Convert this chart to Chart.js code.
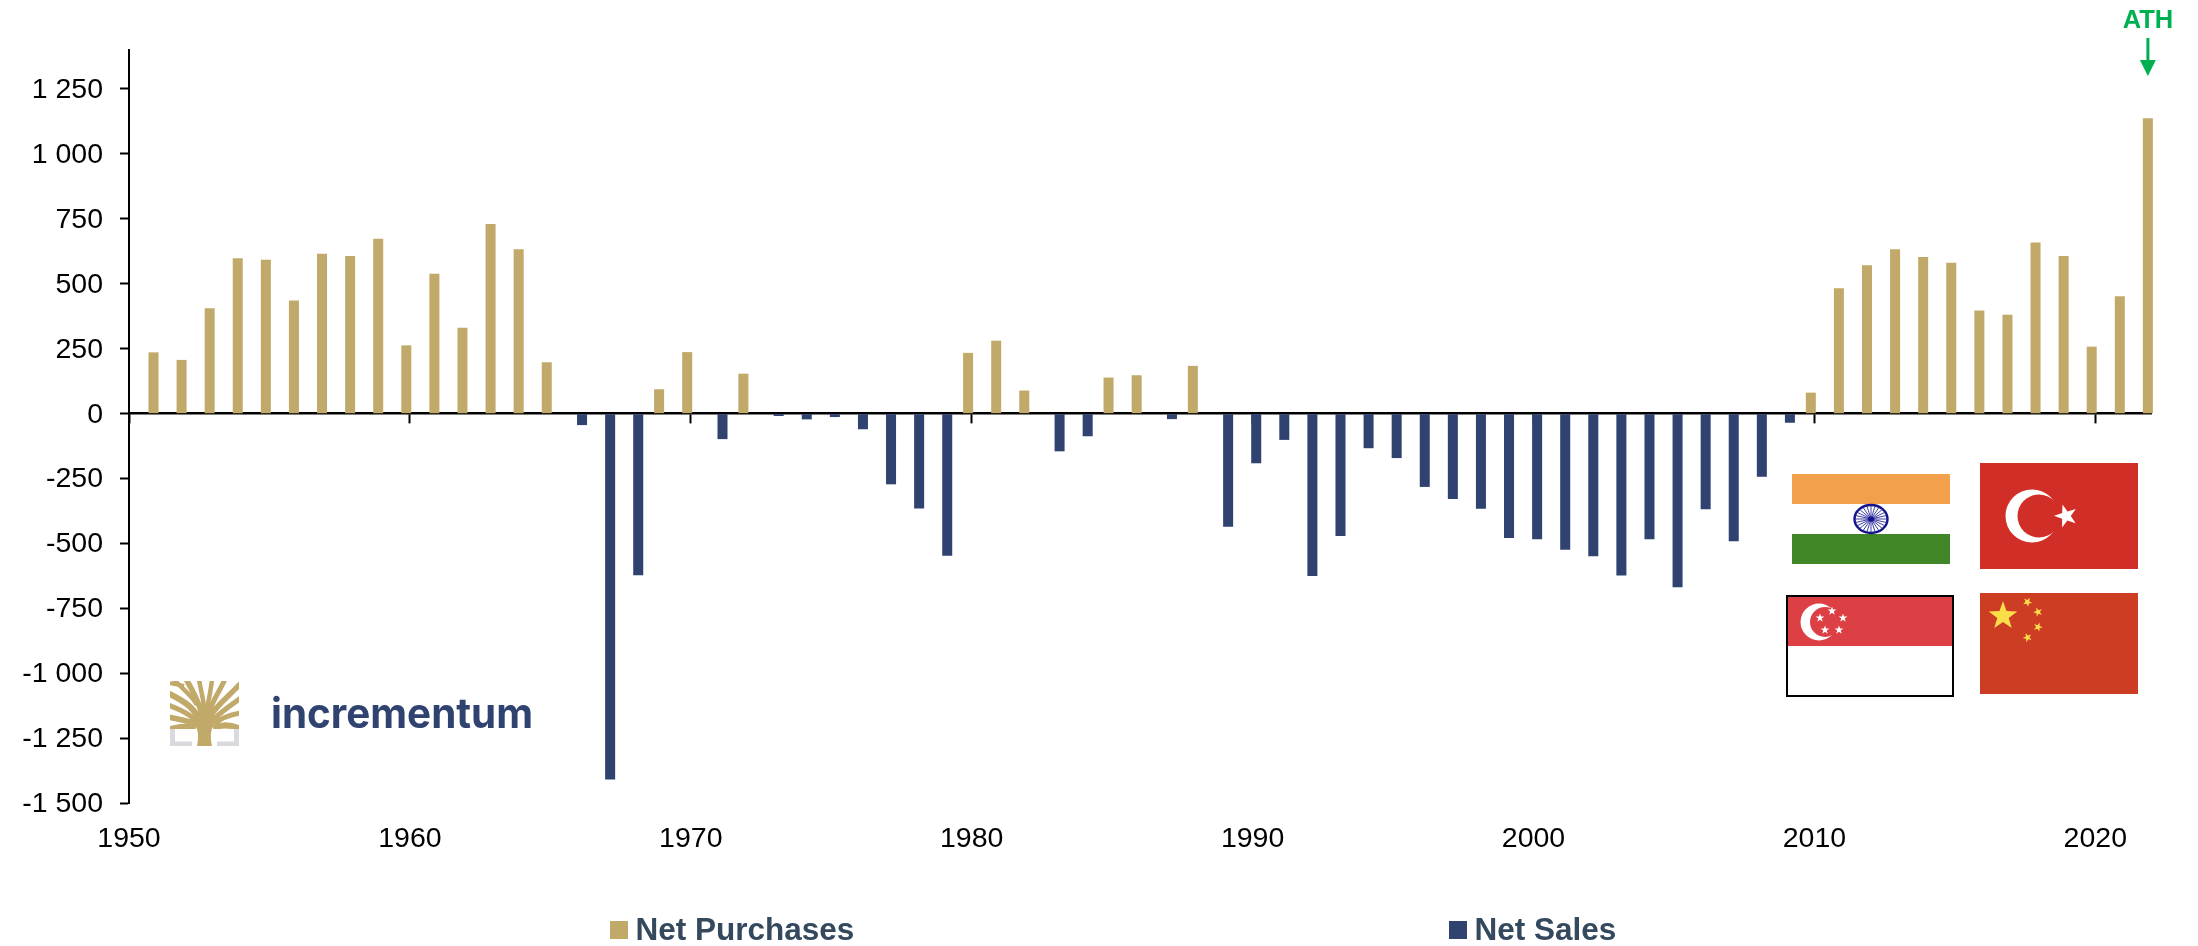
<!DOCTYPE html>
<html>
<head>
<meta charset="utf-8">
<script src="https://cdn.jsdelivr.net/npm/chart.js@4"></script>
<style>
html,body{margin:0;padding:0;background:#fff;}
#wrap{position:relative;width:2198px;height:946px;overflow:hidden;}
#c{position:absolute;left:0;top:0;}
#deco{position:absolute;left:0;top:0;pointer-events:none;}
</style>
</head>
<body>
<div id="wrap">
<canvas id="c" width="2198" height="946"></canvas>
<svg id="deco" width="2198" height="946" xmlns="http://www.w3.org/2000/svg"></svg>
</div>
<script>
// ---- data ----
const years = ['1950','1951','1952','1953','1954','1955','1956','1957','1958','1959',
 '1960','1961','1962','1963','1964','1965','1966','1967','1968','1969',
 '1970','1971','1972','1973','1974','1975','1976','1977','1978','1979',
 '1980','1981','1982','1983','1984','1985','1986','1987','1988','1989',
 '1990','1991','1992','1993','1994','1995','1996','1997','1998','1999',
 '2000','2001','2002','2003','2004','2005','2006','2007','2008','2009',
 '2010','2011','2012','2013','2014','2015','2016','2017','2018','2019',
 '2020','2021','2022'];
const netPurchases = [null,236,207,406,598,593,436,616,607,673,
 263,539,331,730,633,198,null,null,null,94,
 237,null,154,null,null,null,null,null,null,null,
 234,281,89,null,null,139,148,null,184,null,
 null,null,null,null,null,null,null,null,null,null,
 null,null,null,null,null,null,null,null,null,null,
 81,483,571,633,603,581,397,381,659,607,
 258,452,1137];
const netSales = [null,null,null,null,null,null,null,null,null,null,
 null,null,null,null,null,null,-44,-1408,-622,null,
 null,-98,null,-9,-22,-13,-60,-272,-365,-547,
 null,null,null,-145,-87,null,null,-21,null,-435,
 -191,-101,-625,-471,-133,-171,-282,-329,-366,-479,
 -483,-524,-549,-623,-483,-668,-368,-491,-243,-35,
 null,null,null,null,null,null,null,null,null,null,
 null,null,null];
const seriesNames = ['Net Purchases','Net Sales'];
const athLabel = 'ATH';
const logoText = 'incrementum';

const GOLD = '#C1A96A', NAVY = '#2F4270', GREEN = '#00B050', FONT = '"Liberation Sans", Arial, sans-serif';

const decadesOnly = s => { s.ticks = s.ticks.filter(t => Number(years[t.value]) % 10 === 0); };

// Annotation and legend drawn from the chart's own scales and datasets
const overlay = {
  id: 'overlay',
  afterDraw(chart) {
    const ctx = chart.ctx;
    // ATH arrow: above the record bar
    const ax = chart.getDatasetMeta(0).data[years.length - 1].x;
    ctx.save();
    ctx.fillStyle = GREEN; ctx.strokeStyle = GREEN;
    ctx.font = 'bold 25.5px ' + FONT;
    ctx.textAlign = 'center'; ctx.textBaseline = 'alphabetic';
    ctx.fillText(athLabel, ax, 28);
    ctx.lineWidth = 3;
    ctx.beginPath(); ctx.moveTo(ax, 38); ctx.lineTo(ax, 62); ctx.stroke();
    ctx.beginPath(); ctx.moveTo(ax - 8, 60); ctx.lineTo(ax + 8, 60); ctx.lineTo(ax, 76); ctx.closePath(); ctx.fill();
    // legend
    const slots = [610, 1449];
    ctx.textAlign = 'left'; ctx.textBaseline = 'alphabetic';
    ctx.font = 'bold 31.5px ' + FONT;
    chart.data.datasets.forEach((d, i) => {
      ctx.fillStyle = d.backgroundColor;
      ctx.fillRect(slots[i], 921, 18, 18);
      ctx.fillStyle = '#34495E';
      ctx.fillText(d.label, slots[i] + 25.5, 940);
    });
    ctx.restore();
  }
};

new Chart(document.getElementById('c'), {
  type: 'bar',
  data: {
    labels: years,
    datasets: [
      {label: seriesNames[0], data: netPurchases, backgroundColor: GOLD, categoryPercentage: 0.513, barPercentage: 1.39, clip: false},
      {label: seriesNames[1], data: netSales, backgroundColor: NAVY, categoryPercentage: 0.513, barPercentage: 1.39, clip: false}
    ]
  },
  options: {
    responsive: false,
    animation: false,
    devicePixelRatio: 1,
    layout: {padding: {left: 0, right: 46.5, top: 50, bottom: 82.7}},
    plugins: {legend: {display: false}, tooltip: {enabled: false}, title: {display: false}},
    scales: {
      x: {
        type: 'category', position: 'bottom', offset: false,
        afterBuildTicks: decadesOnly,
        afterFit(s) { s.height = 60; },
        grid: {display: false, offset: false},
        border: {display: false},
        ticks: {autoSkip: false, maxRotation: 0, minRotation: 0, padding: 11, color: '#000', font: {family: FONT, size: 28.5}}
      },
      x2: {
        type: 'category', axis: 'x', labels: years, position: {y: 0}, offset: false, z: 1,
        afterBuildTicks: decadesOnly,
        grid: {display: true, offset: false, drawOnChartArea: false, drawTicks: true, tickLength: 9, tickColor: '#000', tickWidth: 2},
        border: {display: true, color: '#000', width: 2.4},
        ticks: {display: false, autoSkip: false}
      },
      y: {
        type: 'linear', position: 'left', min: -1500, max: 1400,
        afterFit(s) { s.width = 129; },
        grid: {display: true, drawOnChartArea: false, drawTicks: true, tickLength: 9, tickColor: '#000', tickWidth: 2},
        border: {display: true, color: '#000', width: 2},
        ticks: {
          stepSize: 250, includeBounds: false, padding: 17, labelOffset: 1, color: '#000',
          font: {family: FONT, size: 28.5},
          callback: v => String(v).replace(/(\d)(\d{3})$/, '$1 $2')
        }
      }
    }
  },
  plugins: [overlay]
});

// ---- flags and logo (decoration) ----
function star(cx, cy, r, rot) {
  const pts = [];
  for (let i = 0; i < 10; i++) {
    const a = (rot || 0) - Math.PI / 2 + i * Math.PI / 5, q = i % 2 ? r * 0.4 : r;
    pts.push((cx + q * Math.cos(a)).toFixed(1) + ',' + (cy + q * Math.sin(a)).toFixed(1));
  }
  return pts.join(' ');
}
let spokes = '';
for (let i = 0; i < 24; i++) {
  const a = i * Math.PI / 12;
  spokes += `<line x1="1871" y1="519" x2="${(1871 + 16 * Math.cos(a)).toFixed(1)}" y2="${(519 + 13.5 * Math.sin(a)).toFixed(1)}" stroke="#2A2A9A" stroke-width="0.9"/>`;
}
const sgStars = [[1832,611],[1843,618],[1839,630],[1825,630],[1820,618]].map(p => `<polygon points="${star(p[0], p[1], 4.6)}" fill="#fff"/>`).join('');
const cnStars = [[2027.5,602,0.5],[2038,612,0.9],[2038,627,-0.9],[2027.5,637.5,-0.4]].map(p => `<polygon points="${star(p[0], p[1], 4.8, p[2])}" fill="#F9DE4A"/>`).join('');

const branches = [
 ['M28 36 C22 25 12 19 -2 12',6],['M24 38 C18 32 9 28 -2 24',5],['M24 42 C17 40 9 38 -2 36',5.5],
 ['M26 46 C18 45 8 45 -2 49',6],['M31 30 C28 20 23 10 16 -2',5.5],['M27 24 C23 16 15 10 3 -2',4.5],
 ['M34 32 C35 22 31 12 29 -2',4.5],['M36 32 C38 22 41 10 42 -2',4.5],
 ['M39 32 C42 20 50 10 55 -2',5],['M41 34 C47 24 58 16 71 2',5.5],['M44 38 C50 32 58 26 71 17',5],
 ['M44 43 C50 38 58 34 71 32',5],['M43 47 C50 44 60 43 71 48',6],['M14 5 C10 4 6 3 -2 2',4]
].map(b => `<path d="${b[0]}" fill="none" stroke="${GOLD}" stroke-width="${b[1]}"/>`).join('');

document.getElementById('deco').innerHTML = `
<defs><clipPath id="lc"><rect x="0" y="0" width="69" height="48"/></clipPath></defs>
<g transform="translate(170 681)">
  <path d="M0 45 H5 V60.5 H22 V65 H0 Z M69 45 H64 V60.5 H47 V65 H69 Z" fill="#DAD9DD"/>
  <g clip-path="url(#lc)">${branches}</g>
  <path d="M27 65 C29 55 29 47 21 39 L34 22 L47 39 C40 47 40 55 42 65 Z" fill="${GOLD}"/>
</g>
<text x="271" y="728" font-family="Inter" font-weight="700" font-size="41" fill="${NAVY}" textLength="262" lengthAdjust="spacingAndGlyphs">${logoText}</text>

<rect x="1792" y="474" width="158" height="30" fill="#F3A04D"/>
<rect x="1792" y="534" width="158" height="30" fill="#428727"/>
<ellipse cx="1871" cy="519" rx="16.5" ry="14" fill="#fff" stroke="#14148C" stroke-width="2.4"/>
${spokes}
<ellipse cx="1871" cy="519" rx="3" ry="2.6" fill="#14148C"/>

<rect x="1980" y="463" width="158" height="106" fill="#D02E26"/>
<circle cx="2032" cy="516" r="26.5" fill="#fff"/>
<circle cx="2039" cy="516" r="21.5" fill="#D02E26"/>
<polygon points="${star(2066, 516, 12, -0.3)}" fill="#fff"/>

<rect x="1787" y="596" width="166" height="100" fill="#fff" stroke="#000" stroke-width="2"/>
<rect x="1788" y="597" width="164" height="49" fill="#DC3F44"/>
<circle cx="1819" cy="622" r="18.5" fill="#fff"/>
<circle cx="1825" cy="622" r="15" fill="#DC3F44"/>
${sgStars}

<rect x="1980" y="593" width="158" height="101" fill="#CC3D24"/>
<polygon points="${star(2003, 616, 15)}" fill="#F9DE4A"/>
${cnStars}
`;
</script>
</body>
</html>
